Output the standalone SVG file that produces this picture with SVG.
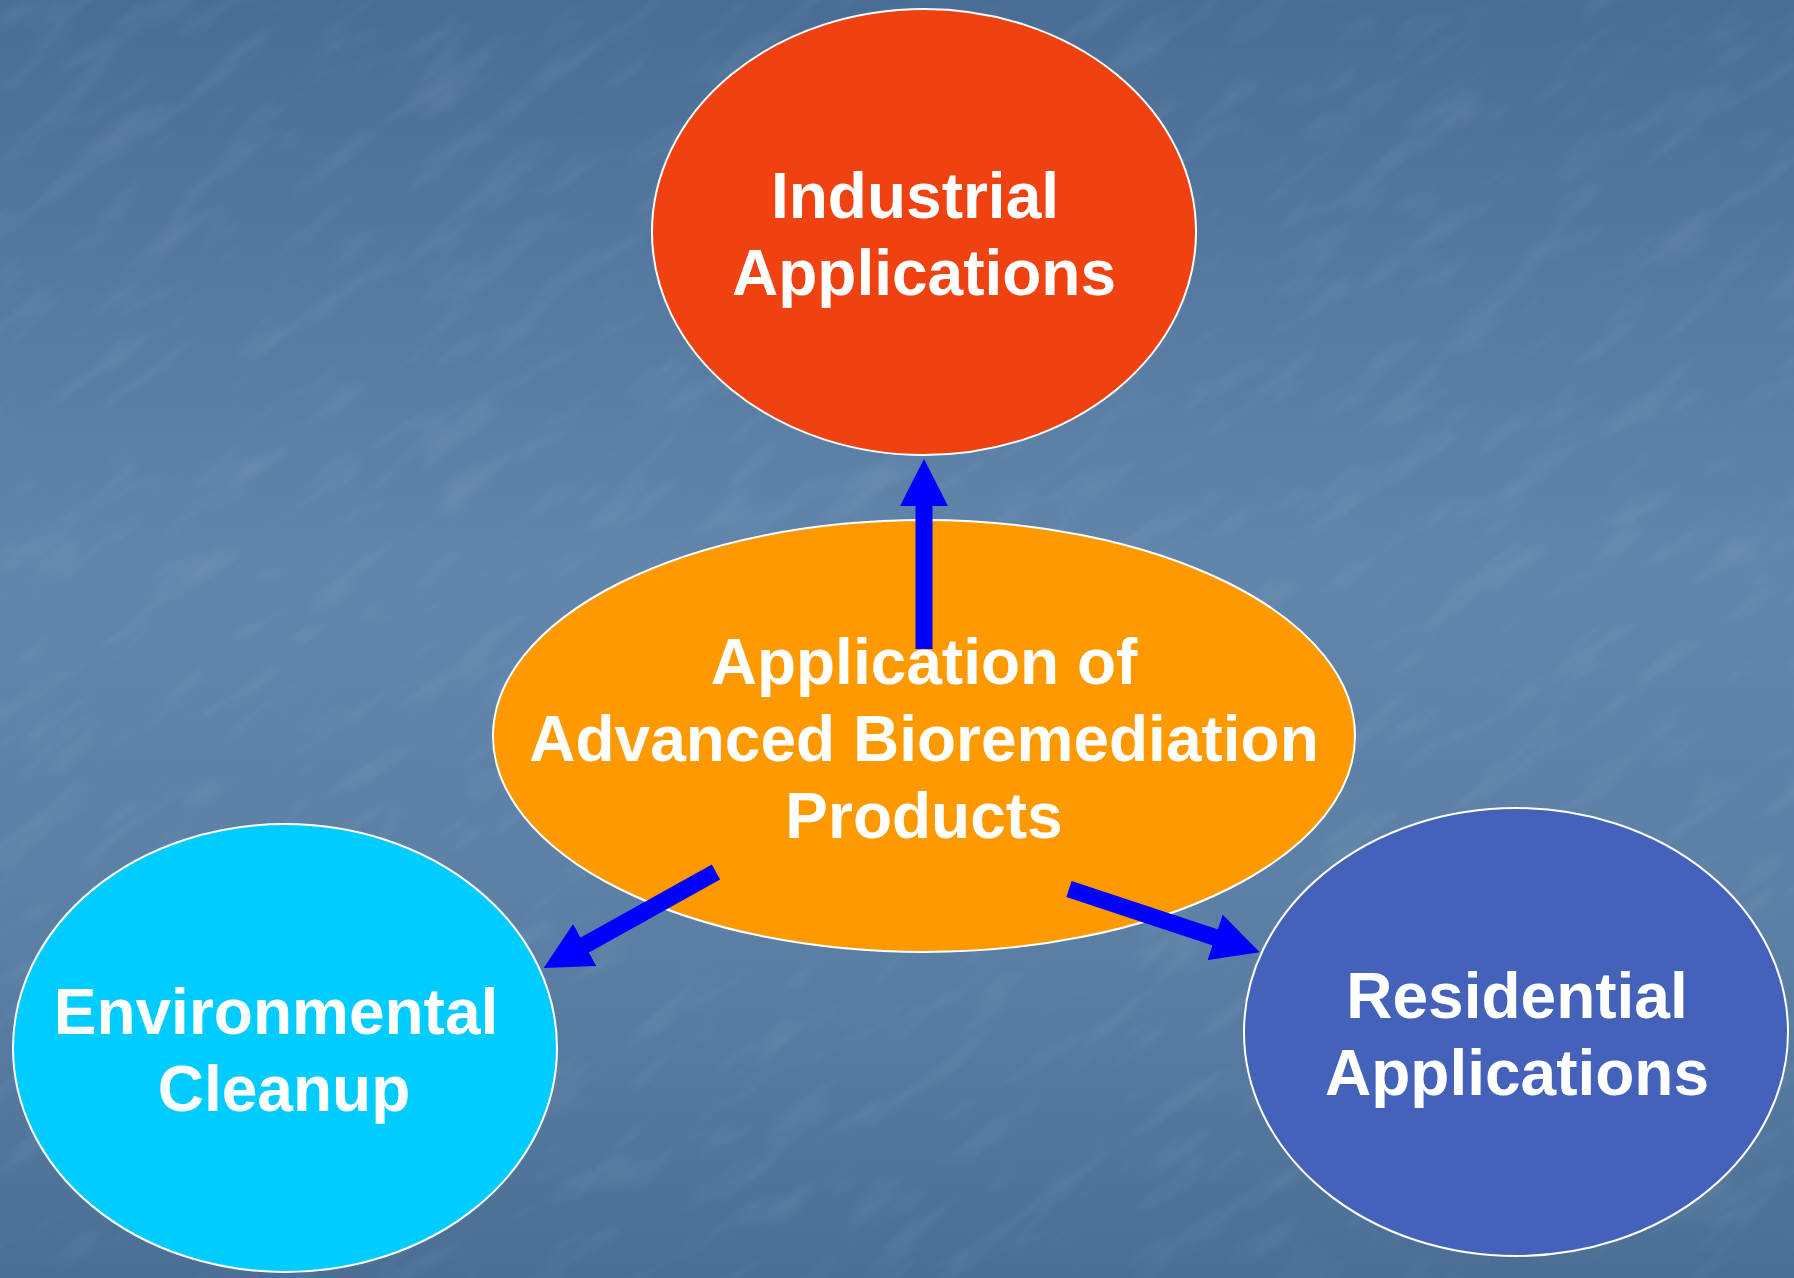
<svg xmlns="http://www.w3.org/2000/svg" width="1794" height="1278" viewBox="0 0 1794 1278">
  <style>
    .node { stroke: #ffffff; stroke-width: 2; }
    .label { font-family: "Liberation Sans", Arial, sans-serif; font-weight: bold; font-size: 64px; fill: #ffffff; text-anchor: middle; }
    .conn { stroke: #0000ff; stroke-width: 17; fill: none; stroke-linecap: butt; }
  </style>
  <defs>
    <linearGradient id="bg" x1="0" y1="0" x2="0" y2="1">
      <stop offset="0" stop-color="#4a6d95"/>
      <stop offset="0.45" stop-color="#6185ab"/>
      <stop offset="0.75" stop-color="#5a7ea4"/>
      <stop offset="1" stop-color="#4b6e95"/>
    </linearGradient>
    <filter id="tex" x="0" y="0" width="100%" height="100%">
      <feTurbulence type="fractalNoise" baseFrequency="0.01 0.035" numOctaves="3" seed="7" result="n"/>
      <feColorMatrix in="n" type="matrix" values="0 0 0 0 1  0 0 0 0 1  0 0 0 0 1  0 0 0 1.2 -0.6"/>
    </filter>
    <marker id="head" markerUnits="userSpaceOnUse" markerWidth="48" markerHeight="48" refX="2" refY="24" orient="auto">
      <path d="M0,0 L47,24 L0,48 Z" fill="#0000ff"/>
    </marker>
  </defs>

  <g id="background">
    <rect x="0" y="0" width="1794" height="1278" fill="url(#bg)"/>
    <g transform="rotate(-35 897 639)" opacity="0.14">
      <rect x="-600" y="-600" width="3000" height="2500" filter="url(#tex)"/>
    </g>
  </g>

  <g id="node-industrial">
    <ellipse class="node" cx="924" cy="232" rx="272" ry="223" fill="#f04111"/>
    <text class="label" x="915" y="218">Industrial</text>
    <text class="label" x="924" y="295">Applications</text>
  </g>

  <g id="node-center">
    <ellipse class="node" cx="924" cy="736" rx="431" ry="216" fill="#ff9900"/>
    <text class="label" x="924" y="684">Application of</text>
    <text class="label" x="924" y="761">Advanced Bioremediation</text>
    <text class="label" x="924" y="838">Products</text>
  </g>

  <g id="node-environmental">
    <ellipse class="node" cx="285" cy="1048" rx="272" ry="224" fill="#00ccff"/>
    <text class="label" x="276" y="1034">Environmental</text>
    <text class="label" x="284" y="1111">Cleanup</text>
  </g>

  <g id="node-residential">
    <ellipse class="node" cx="1516" cy="1032" rx="272" ry="224" fill="#4462ba"/>
    <text class="label" x="1517" y="1018">Residential</text>
    <text class="label" x="1517" y="1095">Applications</text>
  </g>

  <g id="connectors">
    <line class="conn" x1="924" y1="649" x2="924" y2="504" marker-end="url(#head)"/>
    <line class="conn" x1="716" y1="872" x2="583" y2="946" marker-end="url(#head)"/>
    <line class="conn" x1="1069" y1="889" x2="1217" y2="938" marker-end="url(#head)"/>
  </g>
</svg>
